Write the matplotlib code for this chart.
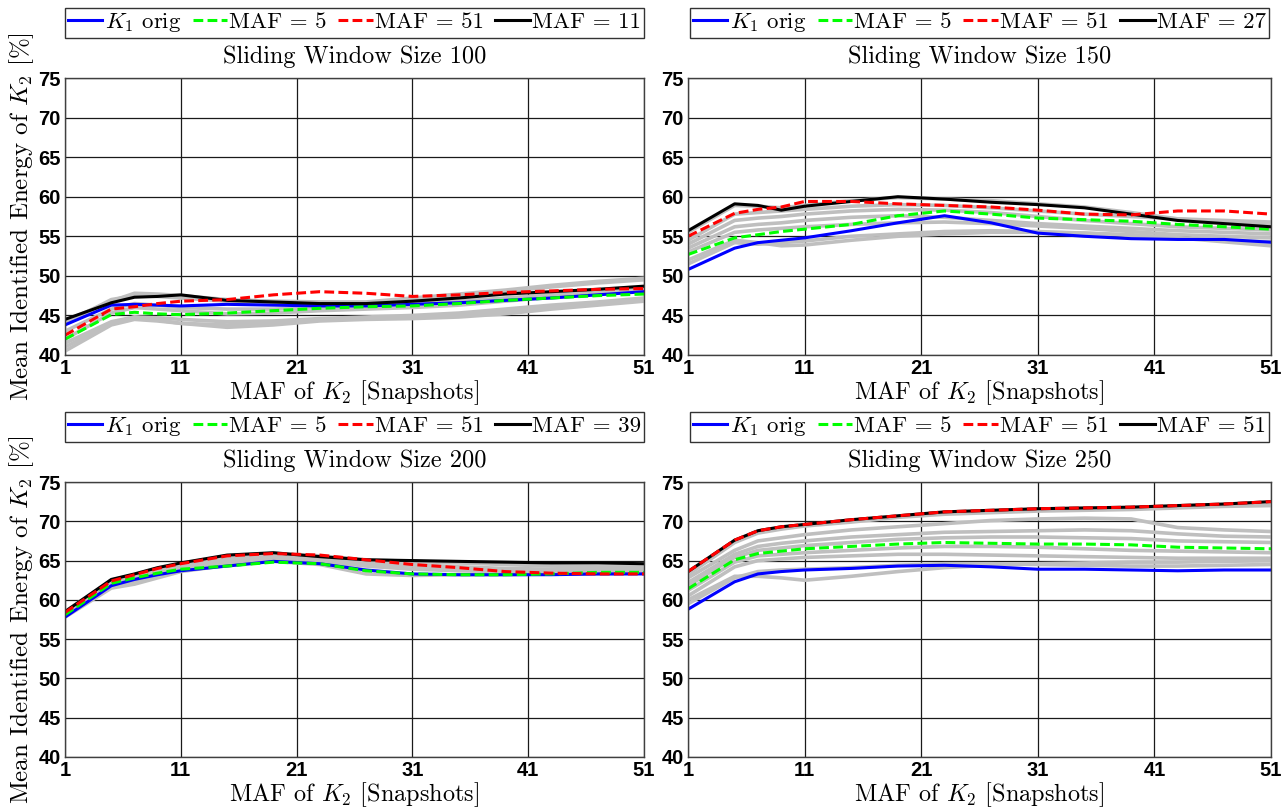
import matplotlib
matplotlib.use('Agg')
import matplotlib.pyplot as plt

plt.rcParams['font.family'] = 'serif'
plt.rcParams['font.serif'] = ['cmr10', 'DejaVu Serif']
plt.rcParams['mathtext.fontset'] = 'cm'
plt.rcParams['axes.unicode_minus'] = False
plt.rcParams['axes.formatter.use_mathtext'] = True

# MAF of K2 (snapshots)
maf_k2 = [1, 5, 7, 9, 11, 15, 19, 23, 27, 31, 35, 39, 43, 47, 51]

window_sizes = [100, 150, 200, 250]
best_maf = [11, 27, 39, 51]

# window 100
orig_100 = [43.8, 46.3, 46.4, 46.3, 46.2, 46.4, 46.3, 46.2, 46.2, 46.4, 46.6, 46.9, 47.2, 47.6, 48.0]
maf5_100 = [42.0, 45.1, 45.4, 45.2, 45.1, 45.3, 45.6, 45.9, 46.1, 46.2, 46.5, 46.9, 47.2, 47.5, 47.7]
maf51_100 = [42.5, 45.8, 46.1, 46.5, 46.8, 47.0, 47.6, 48.0, 47.8, 47.4, 47.6, 47.9, 48.1, 48.3, 48.4]
best_100 = [44.5, 46.6, 47.3, 47.4, 47.6, 46.9, 46.7, 46.5, 46.5, 46.8, 47.2, 47.7, 48.0, 48.3, 48.7]
others_100 = [
    [44.3, 46.8, 47.8, 47.7, 47.5, 47.0, 46.8, 46.7, 46.7, 47.2, 47.7, 48.2, 48.8, 49.3, 49.7],
    [40.5, 43.8, 44.5, 44.3, 44.0, 43.5, 43.8, 44.3, 44.5, 44.6, 44.8, 45.2, 45.8, 46.3, 46.8],
    [41.5, 44.2, 44.8, 44.7, 44.5, 44.2, 44.3, 44.6, 44.8, 45.0, 45.3, 45.8, 46.3, 46.7, 47.2],
    [43.0, 45.8, 46.5, 46.3, 46.0, 45.8, 45.8, 46.0, 46.2, 46.5, 46.8, 47.2, 47.6, 48.0, 48.5],
    [42.0, 45.3, 46.0, 45.8, 45.6, 45.2, 45.3, 45.6, 45.8, 46.0, 46.3, 46.8, 47.3, 47.8, 48.2],
    [44.0, 47.0, 47.5, 47.4, 47.2, 46.8, 46.5, 46.3, 46.5, 47.0, 47.5, 48.0, 48.6, 49.1, 49.5],
    [41.0, 44.0, 44.8, 44.4, 44.0, 43.8, 44.1, 44.5, 44.7, 44.8, 45.0, 45.5, 46.0, 46.5, 47.0],
]

# window 150
orig_150 = [50.8, 53.5, 54.2, 54.5, 54.8, 55.7, 56.7, 57.6, 56.7, 55.4, 55.0, 54.7, 54.6, 54.6, 54.25]
maf5_150 = [52.7, 54.8, 55.2, 55.6, 55.9, 56.5, 57.6, 58.2, 57.8, 57.3, 57.1, 56.9, 56.5, 56.2, 55.9]
maf51_150 = [55.0, 57.9, 58.4, 58.7, 59.4, 59.4, 59.1, 58.9, 58.7, 58.3, 57.8, 57.7, 58.2, 58.2, 57.8]
best_150 = [55.7, 59.1, 58.9, 58.3, 58.8, 59.4, 60.0, 59.7, 59.3, 59.0, 58.6, 57.8, 57.0, 56.6, 56.2]
others_150 = [
    [55.5, 58.9, 58.8, 58.6, 58.9, 59.5, 59.9, 59.7, 59.5, 59.1, 58.7, 58.0, 57.2, 56.8, 56.4],
    [54.5, 57.8, 58.0, 58.2, 58.4, 58.8, 59.0, 58.9, 58.6, 58.2, 57.8, 57.5, 57.2, 57.0, 56.8],
    [54.0, 57.0, 57.3, 57.5, 57.8, 58.2, 58.4, 58.3, 58.0, 57.5, 57.0, 56.6, 56.2, 56.0, 55.8],
    [53.5, 56.2, 56.5, 56.7, 57.0, 57.4, 57.6, 57.4, 57.0, 56.6, 56.3, 56.0, 55.7, 55.5, 55.3],
    [53.0, 55.5, 55.8, 56.0, 56.2, 56.5, 56.7, 56.8, 56.6, 56.3, 56.0, 55.6, 55.2, 55.0, 54.8],
    [52.0, 54.5, 54.2, 53.8, 53.9, 54.5, 55.0, 55.3, 55.5, 55.5, 55.4, 55.2, 54.8, 54.3, 53.8],
    [51.5, 54.2, 54.0, 54.2, 54.4, 55.0, 55.3, 55.6, 55.7, 55.6, 55.4, 55.1, 54.8, 54.5, 54.3],
]

# window 200
orig_200 = [57.8, 61.8, 62.6, 63.2, 63.7, 64.3, 64.9, 64.6, 63.8, 63.3, 63.2, 63.2, 63.2, 63.3, 63.3]
maf5_200 = [58.1, 62.1, 62.8, 63.4, 63.9, 64.3, 64.8, 64.6, 63.7, 63.3, 63.2, 63.2, 63.3, 63.5, 63.5]
maf51_200 = [58.4, 62.4, 63.2, 64.0, 64.6, 65.6, 65.9, 65.7, 65.1, 64.5, 64.1, 63.6, 63.4, 63.3, 63.3]
best_200 = [58.5, 62.6, 63.3, 64.1, 64.7, 65.7, 66.0, 65.5, 65.1, 65.0, 64.9, 64.8, 64.7, 64.7, 64.6]
others_200 = [
    [58.5, 62.5, 63.2, 63.9, 64.5, 65.5, 65.9, 65.6, 65.1, 64.9, 64.7, 64.5, 64.3, 64.2, 64.2],
    [58.3, 62.2, 62.8, 63.5, 64.2, 65.2, 65.6, 65.3, 64.8, 64.5, 64.2, 64.0, 63.9, 63.8, 63.8],
    [58.0, 61.8, 62.2, 63.0, 63.8, 64.8, 65.2, 64.9, 64.3, 63.9, 63.7, 63.6, 63.5, 63.5, 63.6],
    [57.8, 61.5, 62.0, 62.8, 63.6, 64.4, 64.9, 64.5, 63.3, 63.1, 63.2, 63.2, 63.3, 63.3, 63.4],
    [58.2, 62.0, 62.5, 63.3, 64.0, 64.9, 65.4, 65.1, 64.6, 64.3, 64.0, 63.9, 63.8, 63.8, 63.9],
]

# window 250
orig_250 = [58.8, 62.3, 63.3, 63.6, 63.8, 64.0, 64.3, 64.4, 64.2, 63.9, 63.9, 63.8, 63.7, 63.8, 63.8]
maf5_250 = [61.4, 65.1, 65.9, 66.2, 66.5, 66.8, 67.1, 67.3, 67.2, 67.1, 67.1, 67.0, 66.7, 66.6, 66.5]
maf51_250 = [63.6, 67.6, 68.8, 69.3, 69.6, 70.2, 70.7, 71.2, 71.4, 71.6, 71.7, 71.8, 72.0, 72.2, 72.5]
best_250 = maf51_250
others_250 = [
    [63.2, 67.3, 68.5, 69.0, 69.4, 69.9, 70.5, 70.9, 71.1, 71.3, 71.4, 71.5, 71.7, 71.9, 72.0],
    [62.8, 66.3, 67.5, 67.9, 68.3, 68.9, 69.3, 69.7, 70.1, 70.3, 70.4, 70.3, 69.2, 68.9, 68.7],
    [62.2, 65.8, 66.8, 67.2, 67.5, 68.0, 68.3, 68.6, 68.7, 68.8, 68.9, 68.8, 68.4, 68.1, 68.0],
    [61.8, 65.4, 66.3, 66.6, 66.9, 67.3, 67.7, 67.9, 68.0, 68.0, 67.9, 67.8, 67.5, 67.4, 67.3],
    [61.2, 64.8, 65.6, 65.8, 66.0, 66.3, 66.6, 66.8, 66.8, 66.7, 66.5, 66.3, 66.2, 66.1, 66.0],
    [60.5, 64.2, 65.0, 65.2, 65.4, 65.6, 65.8, 65.8, 65.7, 65.6, 65.5, 65.4, 65.3, 65.3, 65.3],
    [60.0, 63.0, 63.0, 62.8, 62.5, 63.0, 63.6, 64.1, 64.4, 64.6, 64.7, 64.8, 64.8, 64.9, 65.0],
    [59.5, 62.8, 63.6, 63.8, 63.9, 64.1, 64.4, 64.6, 64.6, 64.5, 64.4, 64.3, 64.3, 64.4, 64.5],
]

panels = [
    (orig_100, maf5_100, maf51_100, best_100, others_100),
    (orig_150, maf5_150, maf51_150, best_150, others_150),
    (orig_200, maf5_200, maf51_200, best_200, others_200),
    (orig_250, maf5_250, maf51_250, best_250, others_250),
]

x_ticks = [1, 11, 21, 31, 41, 51]
y_ticks = [40, 45, 50, 55, 60, 65, 70, 75]

W, H = 1282.0, 810.0
# axes boxes in pixels: left, top, right, bottom
boxes = [(65, 78, 644, 355), (688, 78, 1271, 355),
         (65, 482, 644, 757), (688, 482, 1271, 757)]

fig = plt.figure(figsize=(12.82, 8.10), dpi=100)

for i, (orig, m5, m51, best, others) in enumerate(panels):
    l, t, r, b = boxes[i]
    ax = fig.add_axes([l / W, 1 - b / H, (r - l) / W, (b - t) / H])

    for g in others:
        ax.plot(maf_k2, g, color='0.75', lw=2.6, solid_joinstyle='round')

    h_orig, = ax.plot(maf_k2, orig, color='#0000ff', lw=2.2)
    h_m5, = ax.plot(maf_k2, m5, color='#00ff00', lw=2.2, ls='--', dashes=(3.2, 1.4))
    h_best, = ax.plot(maf_k2, best, color='black', lw=2.2)
    h_m51, = ax.plot(maf_k2, m51, color='#ff0000', lw=2.2, ls='--', dashes=(3.2, 1.4))

    ax.set_xlim(1, 51)
    ax.set_ylim(40, 75)
    ax.set_xticks(x_ticks, [str(v) for v in x_ticks],
                  fontfamily='Liberation Sans', fontweight='bold', fontsize=14.5)
    ax.set_yticks(y_ticks, [str(v) for v in y_ticks],
                  fontfamily='Liberation Sans', fontweight='bold', fontsize=14.5)
    ax.tick_params(direction='in', length=0, pad=3)
    ax.grid(True, color='0.1', lw=0.9)
    for s in ax.spines.values():
        s.set_color('0.25')
        s.set_linewidth(1.0)

    ax.set_title('Sliding Window Size %d' % window_sizes[i], fontsize=17.5, pad=11)
    ax.set_xlabel('MAF of $K_2$ [Snapshots]', fontsize=17.5, labelpad=0)
    if i % 2 == 0:
        ax.set_ylabel('Mean Identified Energy of $K_2$ [%]', fontsize=18, labelpad=2)

    leg = ax.legend([h_orig, h_m5, h_m51, h_best],
                    ['$K_1$ orig', 'MAF = 5', 'MAF = 51', 'MAF = %d' % best_maf[i]],
                    loc='upper center', bbox_to_anchor=((l + r) / 2 / W, 1 - (t - 70) / H),
                    bbox_transform=fig.transFigure, ncol=4, fontsize=16.5,
                    frameon=True, fancybox=False, handlelength=1.5, handletextpad=0.1,
                    columnspacing=0.5, borderpad=0.15, borderaxespad=0)
    leg.get_frame().set_edgecolor('black')
    leg.get_frame().set_linewidth(1.0)

fig.savefig('out.png', dpi=100)
